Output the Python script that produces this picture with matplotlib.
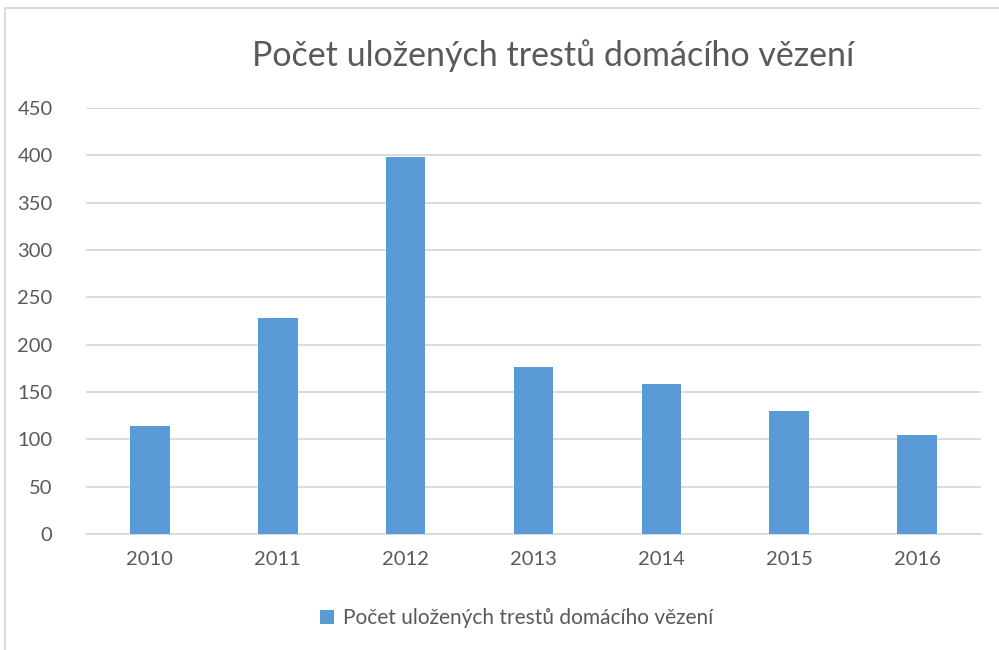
import matplotlib.pyplot as plt
from matplotlib.patches import Rectangle

years = ["2010", "2011", "2012", "2013", "2014", "2015", "2016"]
counts = [114, 228, 398, 176, 158, 130, 105]
series_name = "Počet uložených trestů domácího vězení"
y_ticks = [0, 50, 100, 150, 200, 250, 300, 350, 400, 450]

bar_color = "#5b9bd5"
text_color = "#595959"
grid_color = "#d9d9d9"

plt.rcParams['font.family'] = ['Lato', 'DejaVu Sans']

fig = plt.figure(figsize=(9.99, 6.5), dpi=100)
ax = fig.add_axes([0.086, 0.1785, 0.896, 0.6555])

x = range(len(years))
ax.bar(x, counts, width=0.31, color=bar_color, label=series_name, zorder=3)

ax.set_xlim(-0.5, len(years) - 0.5)
ax.set_ylim(0, 450)
ax.set_yticks(y_ticks)
ax.set_xticks(list(x))
ax.set_xticklabels(years)
ax.grid(axis='y', color=grid_color, linewidth=1.3, zorder=0)
ax.tick_params(axis='both', length=0, labelsize=14.5, colors=text_color)
ax.tick_params(axis='y', pad=24)
ax.tick_params(axis='x', pad=12)
for side in ['top', 'right', 'left']:
    ax.spines[side].set_visible(False)
ax.spines['bottom'].set_color(grid_color)
ax.spines['bottom'].set_linewidth(1.3)

fig.text(0.554, 0.915, series_name, ha='center', va='center',
         fontsize=24.5, color=text_color)

leg = fig.legend(loc='center', bbox_to_anchor=(0.517, 0.049), frameon=False,
                 fontsize=15, handlelength=0.7, handleheight=0.7,
                 handletextpad=0.4)
for t in leg.get_texts():
    t.set_color(text_color)

# outer chart border (cropped on the right and bottom)
fig.patches.append(Rectangle((0.005, -0.1), 1.1, 1.088, transform=fig.transFigure,
                             fill=False, edgecolor=grid_color, linewidth=1.3))

fig.savefig("out.png", dpi=100)
